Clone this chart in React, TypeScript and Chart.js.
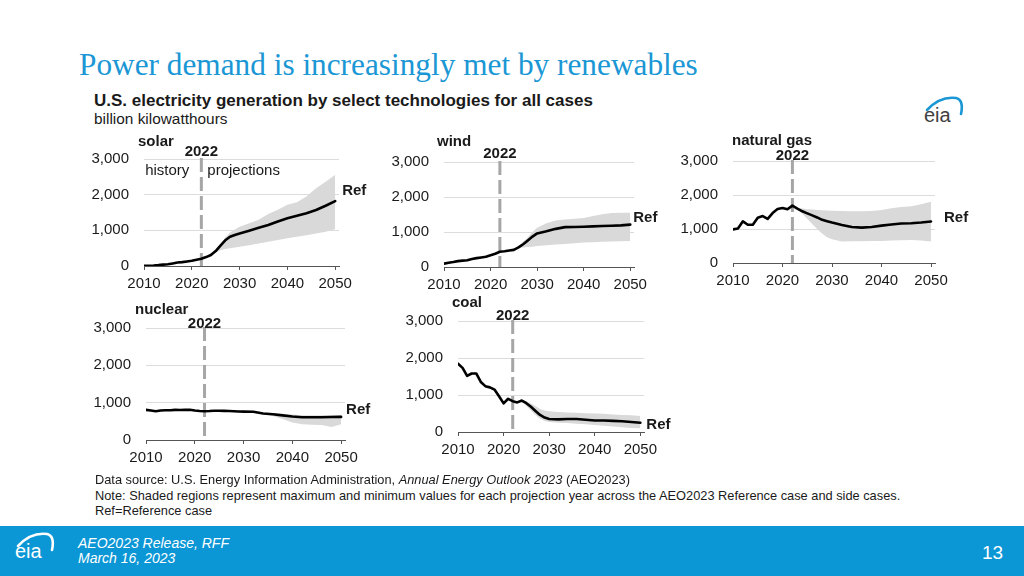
import React, { useEffect, useRef } from "react";
import { Chart, registerables } from "chart.js";

Chart.register(...registerables);

// ---------------- DATA ----------------
const years = [
  2010, 2011, 2012, 2013, 2014, 2015, 2016, 2017, 2018, 2019, 2020, 2021, 2022,
  2023, 2024, 2025, 2026, 2027, 2028, 2029, 2030, 2032, 2034, 2036, 2038, 2040,
  2042, 2044, 2046, 2048, 2050,
];
const bandYears = [
  2022, 2023, 2024, 2025, 2026, 2027, 2028, 2029, 2030, 2032, 2034, 2036, 2038,
  2040, 2042, 2044, 2046, 2048, 2050,
];

const solarRef = [4, 9, 15, 25, 39, 51, 72, 96, 108, 125, 145, 178, 205, 250, 310, 420, 570, 720, 820, 870, 910, 990, 1070, 1150, 1250, 1340, 1410, 1480, 1570, 1690, 1820];
const solarMax = [205, 250, 320, 440, 620, 800, 940, 1020, 1100, 1200, 1300, 1460, 1580, 1720, 1790, 1950, 2180, 2360, 2560];
const solarMin = [205, 240, 290, 380, 440, 480, 500, 520, 540, 580, 630, 680, 730, 780, 820, 860, 910, 960, 1030];

const windRef = [95, 120, 141, 168, 182, 191, 227, 254, 273, 295, 338, 380, 434, 450, 470, 490, 560, 650, 760, 870, 960, 1020, 1090, 1140, 1145, 1150, 1160, 1170, 1180, 1190, 1210];
const windMax = [434, 450, 480, 500, 600, 720, 850, 1000, 1120, 1250, 1330, 1360, 1380, 1400, 1460, 1510, 1540, 1550, 1550];
const windMin = [434, 440, 460, 480, 540, 560, 570, 580, 600, 620, 640, 660, 680, 700, 710, 720, 730, 735, 740];

const gasRef = [988, 1014, 1226, 1125, 1127, 1334, 1379, 1297, 1469, 1586, 1617, 1579, 1687, 1600, 1520, 1460, 1400, 1340, 1270, 1230, 1190, 1120, 1060, 1040, 1060, 1100, 1130, 1160, 1170, 1190, 1220];
const gasMax = [1687, 1620, 1600, 1580, 1570, 1560, 1550, 1545, 1540, 1530, 1520, 1520, 1530, 1560, 1610, 1650, 1670, 1730, 1800];
const gasMin = [1687, 1580, 1450, 1300, 1150, 1000, 870, 760, 700, 630, 640, 640, 650, 650, 660, 670, 680, 660, 630];

const nuclearRef = [807, 790, 769, 789, 797, 797, 806, 805, 807, 809, 790, 778, 772, 775, 785, 785, 780, 775, 770, 765, 760, 755, 710, 690, 660, 630, 610, 610, 610, 615, 620];
const nuclearMax = [772, 775, 785, 785, 780, 775, 770, 765, 760, 755, 730, 720, 700, 680, 660, 660, 660, 665, 670];
const nuclearMin = [772, 775, 780, 780, 775, 770, 765, 760, 755, 740, 690, 640, 560, 470, 420, 410, 400, 350, 420];

const coalRef = [1847, 1733, 1514, 1581, 1582, 1352, 1239, 1206, 1146, 965, 774, 898, 832, 800, 850, 780, 680, 570, 460, 390, 350, 340, 350, 350, 330, 310, 310, 300, 290, 270, 250];
const coalMax = [832, 810, 860, 830, 770, 700, 620, 580, 560, 540, 530, 520, 510, 500, 490, 470, 460, 450, 430];
const coalMin = [832, 780, 820, 700, 580, 460, 360, 300, 270, 250, 240, 220, 210, 190, 170, 150, 130, 110, 100];

const xTickYears = [2010, 2020, 2030, 2040, 2050];
const yTickValues = [0, 1000, 2000, 3000];
const splitYear = 2022;
const panelTitles = ["solar", "wind", "natural gas", "nuclear", "coal"];

// ---------------- LAYOUT / STYLE ----------------
const YW = 62;
const PT = 34;
const PR = 44;
const XH = 32;
const X_MIN = 2010;
const X_MAX = 2050.8;
const SANS = "'Liberation Sans', Arial, Helvetica, sans-serif";
const TEXT = "#1a1a1a";
const BAND = "#d9d9d9";

type Lay = {
  left: number; right: number; top: number; bottom: number;
  titleDx: number; titleDy: number; yearDy: number; refDx: number; refDy: number;
  history?: boolean;
};

const layouts: Lay[] = [
  { left: 144, right: 339, top: 159, bottom: 266, titleDx: -6, titleDy: -17.5, yearDy: -7.5, refDx: 7, refDy: -10, history: true },
  { left: 444, right: 634, top: 162, bottom: 267, titleDx: -7, titleDy: -20.5, yearDy: -7.7, refDx: 3, refDy: -7 },
  { left: 733, right: 935, top: 161, bottom: 263, titleDx: -1, titleDy: -20, yearDy: -5, refDx: 13, refDy: -4 },
  { left: 146, right: 345, top: 328, bottom: 440, titleDx: -11, titleDy: -18.3, yearDy: -4.3, refDx: 5, refDy: -7 },
  { left: 458, right: 644, top: 321, bottom: 432, titleDx: -6, titleDy: -17.7, yearDy: -5.3, refDx: 6, refDy: 2.5 },
];

const pts = (xs: number[], ys: number[]) => xs.map((x, i) => ({ x, y: ys[i] }));

function Panel(props: { title: string; refVals: number[]; maxVals: number[]; minVals: number[]; lay: Lay }) {
  const { title, refVals, maxVals, minVals, lay } = props;
  const canvasRef = useRef<HTMLCanvasElement | null>(null);
  const w = lay.right - lay.left + YW + PR;
  const h = lay.bottom - lay.top + PT + XH;

  useEffect(() => {
    const labelPlugin = {
      id: "panelLabels",
      beforeDatasetsDraw(chart: any) {
        const { ctx, scales } = chart;
        const x = scales.x, y = scales.y;
        const px = x.getPixelForValue(splitYear);
        ctx.save();
        ctx.strokeStyle = "#a6a6a6";
        ctx.lineWidth = 3;
        ctx.setLineDash([14, 5]);
        ctx.beginPath();
        ctx.moveTo(px, y.getPixelForValue(3000) - 1);
        ctx.lineTo(px, y.getPixelForValue(0));
        ctx.stroke();
        ctx.restore();
      },
      afterDraw(chart: any) {
        const { ctx, scales, chartArea } = chart;
        const x = scales.x, y = scales.y;
        const px = x.getPixelForValue(splitYear);
        ctx.save();
        ctx.fillStyle = TEXT;
        ctx.textBaseline = "middle";
        ctx.font = `bold 15px ${SANS}`;
        ctx.textAlign = "left";
        ctx.fillText(title, chartArea.left + lay.titleDx, chartArea.top + lay.titleDy);
        ctx.textAlign = "center";
        ctx.fillText(String(splitYear), px, chartArea.top + lay.yearDy);
        const lastX = x.getPixelForValue(years[years.length - 1]);
        const lastY = y.getPixelForValue(refVals[refVals.length - 1]);
        ctx.textAlign = "left";
        ctx.fillText("Ref", lastX + lay.refDx, lastY + lay.refDy);
        if (lay.history) {
          ctx.font = `15px ${SANS}`;
          ctx.textAlign = "right";
          ctx.fillText("history", px - 12, chartArea.top + 11.5);
          ctx.textAlign = "left";
          ctx.fillText("projections", px + 6, chartArea.top + 11.5);
        }
        ctx.restore();
      },
    };

    const chart = new Chart(canvasRef.current as HTMLCanvasElement, {
      type: "line",
      data: {
        datasets: [
          {
            data: pts(years, refVals),
            borderColor: "#000",
            borderWidth: 2.6,
            pointRadius: 0,
            fill: false,
            tension: 0,
            borderJoinStyle: "round",
            borderCapStyle: "round",
          },
          {
            data: pts(bandYears, maxVals),
            borderWidth: 0,
            borderColor: "rgba(0,0,0,0)",
            pointRadius: 0,
            fill: false,
            backgroundColor: BAND,
          },
          {
            data: pts(bandYears, minVals),
            borderWidth: 0,
            borderColor: "rgba(0,0,0,0)",
            pointRadius: 0,
            fill: "-1",
            backgroundColor: BAND,
          },
        ],
      } as any,
      options: {
        responsive: false,
        animation: false,
        devicePixelRatio: 1,
        events: [],
        layout: { padding: { top: PT, right: PR, left: 0, bottom: 0 } },
        plugins: { legend: { display: false }, tooltip: { enabled: false } },
        scales: {
          x: {
            type: "linear",
            min: X_MIN,
            max: X_MAX,
            afterBuildTicks: (s: any) => {
              s.ticks = xTickYears.map((v) => ({ value: v }));
            },
            afterFit: (s: any) => {
              s.height = XH;
            },
            ticks: {
              autoSkip: false,
              maxRotation: 0,
              includeBounds: false,
              padding: 5,
              color: TEXT,
              font: { family: SANS, size: 15 },
              callback: (v: any) => String(v),
            },
            grid: { drawOnChartArea: false, drawTicks: true, tickLength: 4, color: "#555", lineWidth: 1 },
            border: { display: true, color: "#555", width: 1 },
          },
          y: {
            min: 0,
            max: 3000,
            afterBuildTicks: (s: any) => {
              s.ticks = yTickValues.map((v) => ({ value: v }));
            },
            afterFit: (s: any) => {
              s.width = YW;
            },
            ticks: {
              padding: 15,
              color: TEXT,
              font: { family: SANS, size: 15 },
              callback: (v: any) => Number(v).toLocaleString("en-US"),
            },
            grid: { color: "#dcdcdc", drawTicks: false, lineWidth: 1 },
            border: { display: false },
          },
        },
      } as any,
      plugins: [labelPlugin],
    });
    return () => chart.destroy();
  }, []);

  return (
    <canvas
      ref={canvasRef}
      width={w}
      height={h}
      style={{ position: "absolute", left: lay.left - YW, top: lay.top - PT, width: w, height: h }}
    />
  );
}

function EiaLogo(props: { left: number; top: number; color: string; arc: string }) {
  return (
    <svg
      width={44}
      height={40}
      style={{ position: "absolute", left: props.left, top: props.top, overflow: "visible" }}
    >
      <path d="M3,16 Q16,2 32,4 Q40,6 37,20" fill="none" stroke={props.arc} strokeWidth={2.6} strokeLinecap="round" />
      <text x={0} y={28} fill={props.color} fontFamily={SANS} fontSize={20}>
        eia
      </text>
    </svg>
  );
}

export default function App() {
  const refs = [solarRef, windRef, gasRef, nuclearRef, coalRef];
  const maxs = [solarMax, windMax, gasMax, nuclearMax, coalMax];
  const mins = [solarMin, windMin, gasMin, nuclearMin, coalMin];
  const foot: React.CSSProperties = {
    position: "absolute",
    left: 95,
    fontSize: 12.8,
    lineHeight: "13px",
    color: TEXT,
    whiteSpace: "nowrap",
  };
  return (
    <div
      style={{
        position: "fixed",
        left: 0,
        top: 0,
        width: 1024,
        height: 576,
        background: "#fff",
        overflow: "hidden",
        fontFamily: SANS,
      }}
    >
      <div
        style={{
          position: "absolute",
          left: 79,
          top: 49,
          fontFamily: "'Liberation Serif', 'Times New Roman', serif",
          fontSize: 31.3,
          lineHeight: "31px",
          color: "#1a97d4",
          whiteSpace: "nowrap",
        }}
      >
        Power demand is increasingly met by renewables
      </div>
      <div
        style={{
          position: "absolute",
          left: 94,
          top: 92,
          fontSize: 17,
          lineHeight: "17px",
          fontWeight: "bold",
          color: TEXT,
          whiteSpace: "nowrap",
        }}
      >
        U.S. electricity generation by select technologies for all cases
      </div>
      <div
        style={{
          position: "absolute",
          left: 94,
          top: 111,
          fontSize: 15.4,
          lineHeight: "16px",
          color: TEXT,
          whiteSpace: "nowrap",
        }}
      >
        billion kilowatthours
      </div>
      <EiaLogo left={924} top={94} color="#404040" arc="#1a97d4" />

      {layouts.map((lay, i) => (
        <Panel key={i} title={panelTitles[i]} refVals={refs[i]} maxVals={maxs[i]} minVals={mins[i]} lay={lay} />
      ))}

      <div style={{ ...foot, top: 472.5 }}>
        Data source: U.S. Energy Information Administration, <i>Annual Energy Outlook 2023</i> (AEO2023)
      </div>
      <div style={{ ...foot, top: 488.5 }}>
        Note: Shaded regions represent maximum and minimum values for each projection year across the AEO2023 Reference case and side cases.
      </div>
      <div style={{ ...foot, top: 503.5 }}>Ref=Reference case</div>

      <div style={{ position: "absolute", left: 0, top: 526, width: 1024, height: 50, background: "#0b96d5" }} />
      <EiaLogo left={15} top={530} color="#fff" arc="#fff" />
      <div
        style={{
          position: "absolute",
          left: 78,
          top: 536,
          fontSize: 14,
          lineHeight: "15px",
          fontStyle: "italic",
          color: "#fff",
          whiteSpace: "nowrap",
        }}
      >
        AEO2023 Release, RFF
        <br />
        March 16, 2023
      </div>
      <div
        style={{
          position: "absolute",
          left: 982,
          top: 543,
          fontSize: 19,
          lineHeight: "20px",
          color: "#fff",
        }}
      >
        13
      </div>
    </div>
  );
}
